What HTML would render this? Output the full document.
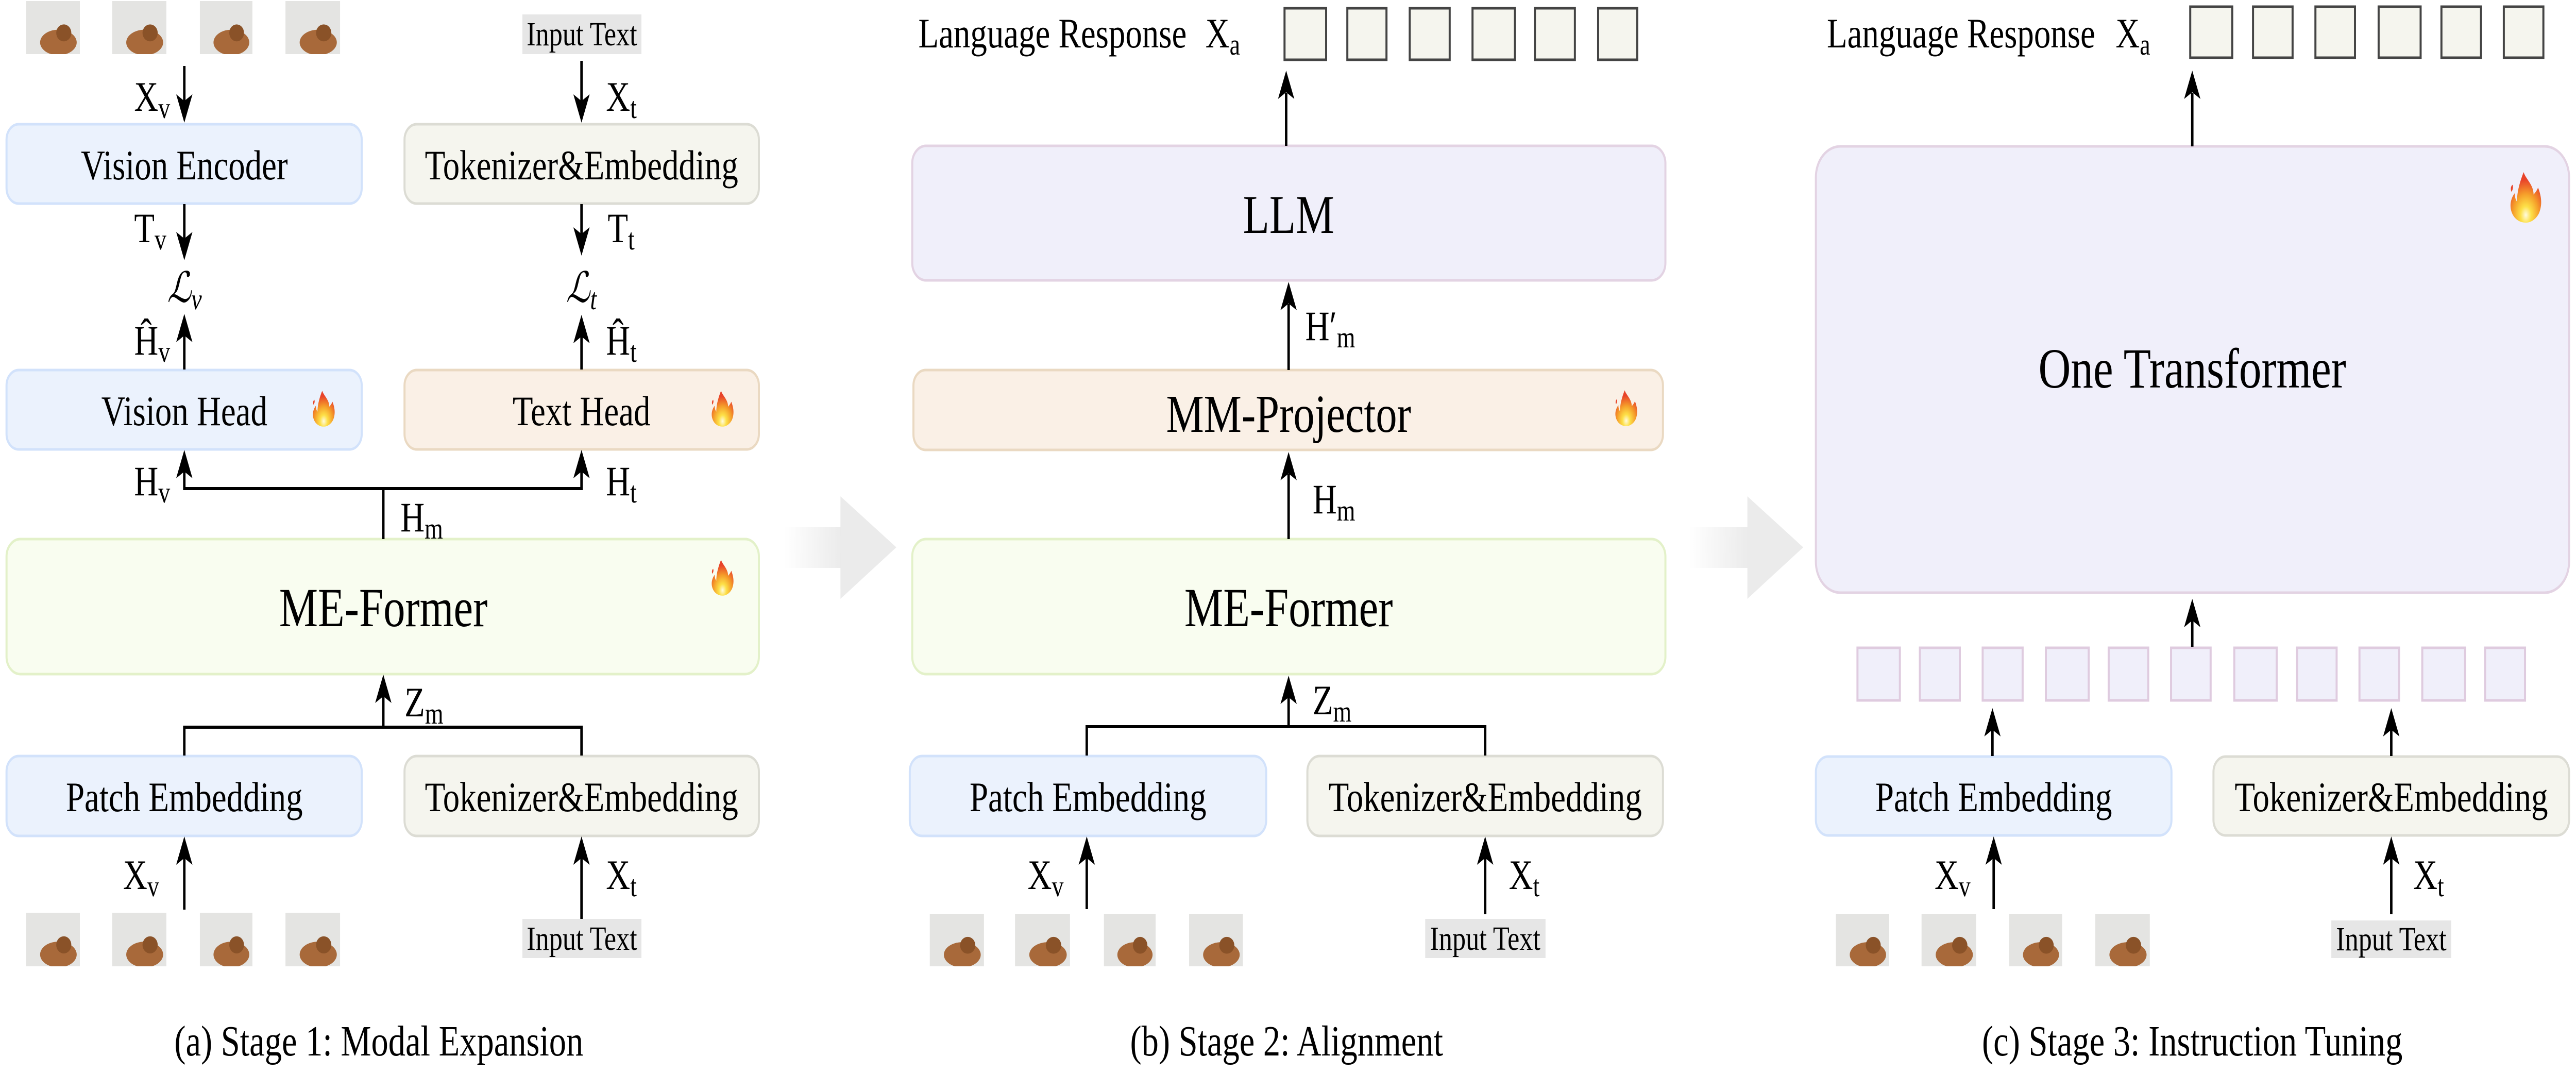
<!DOCTYPE html>
<html><head><meta charset="utf-8"><style>
html,body{margin:0;padding:0;background:#fff;overflow:hidden}
svg{display:block;width:100vw;height:100vh}
svg text{font-family:"Liberation Serif",serif;fill:#000}
</style></head><body>
<svg viewBox="0 0 6317 2082" preserveAspectRatio="none" xmlns="http://www.w3.org/2000/svg" font-family="Liberation Serif, serif">
<defs>
<radialGradient id="fg" cx="0.5" cy="0.85" r="0.7">
<stop offset="0" stop-color="#fffbe0"/><stop offset="0.25" stop-color="#fde047"/><stop offset="0.6" stop-color="#f59e2a"/><stop offset="1" stop-color="#e8432a"/>
</radialGradient>
<symbol id="fire" viewBox="0 0 60 72">
<path d="M26 0 C30 10 44 18 44 32 C48 28 50 26 52 22 C58 34 60 46 54 58 C48 68 38 72 30 72 C18 72 8 66 4 56 C0 46 4 36 10 30 C10 36 12 40 14 42 C14 30 18 16 26 0 Z M6 18 C8 22 6 26 4 28 C2 24 3 20 6 18 Z" fill="url(#fg)"/>
</symbol>
<linearGradient id="sh1" x1="0" x2="1"><stop offset="0" stop-color="#fff"/><stop offset="1" stop-color="#ebebeb"/></linearGradient>
<symbol id="dog" viewBox="0 0 100 100" preserveAspectRatio="none">
<rect width="100" height="100" fill="#e4e4e2"/>
<ellipse cx="60" cy="78" rx="34" ry="24" fill="#a8693a"/>
<ellipse cx="70" cy="60" rx="14" ry="16" fill="#8a5228"/>
</symbol>
</defs>

<rect x="1923" y="1023" width="140" height="79" fill="url(#sh1)"/>
<polygon points="2061,963 2198,1062 2061,1162" fill="#ebebeb"/>
<rect x="4142" y="1023" width="145" height="79" fill="url(#sh1)"/>
<polygon points="4285,963 4422,1062 4285,1162" fill="#ebebeb"/>

<!-- Panel (a) -->
<use href="#dog" x="64" y="2" width="132" height="103"/>
<use href="#dog" x="275" y="2" width="133" height="103"/>
<use href="#dog" x="490" y="2" width="129" height="103"/>
<use href="#dog" x="700" y="2" width="134" height="103"/>
<rect x="1281" y="28" width="292" height="77" fill="#e6e6e6"/>
<text x="1427" y="88" font-size="66" text-anchor="middle">Input Text</text>

<rect x="16" y="241" width="871" height="154" rx="30" fill="#ebf2fd" stroke="#d2e2fb" stroke-width="5"/>
<text x="452" y="348" font-size="82" text-anchor="middle">Vision Encoder</text>
<rect x="992" y="241" width="869" height="154" rx="30" fill="#f5f5ee" stroke="#dcdcd4" stroke-width="5"/>
<text x="1426" y="348" font-size="82" text-anchor="middle">Tokenizer&amp;Embedding</text>

<rect x="16" y="718" width="871" height="154" rx="30" fill="#ebf2fd" stroke="#d2e2fb" stroke-width="5"/>
<text x="452" y="825" font-size="82" text-anchor="middle">Vision Head</text>
<use href="#fire" x="765" y="758" width="58" height="70"/>
<rect x="992" y="718" width="869" height="154" rx="30" fill="#faf0e6" stroke="#ead9c2" stroke-width="5"/>
<text x="1426" y="825" font-size="82" text-anchor="middle">Text Head</text>
<use href="#fire" x="1743" y="758" width="58" height="70"/>

<rect x="16" y="1046" width="1845" height="262" rx="34" fill="#f9fdf0" stroke="#e3f1c9" stroke-width="5"/>
<text x="940" y="1215" font-size="107" text-anchor="middle">ME-Former</text>
<use href="#fire" x="1743" y="1086" width="58" height="70"/>

<rect x="16" y="1467" width="871" height="155" rx="30" fill="#ebf2fd" stroke="#d2e2fb" stroke-width="5"/>
<text x="452" y="1574" font-size="82" text-anchor="middle">Patch Embedding</text>
<rect x="992" y="1467" width="869" height="155" rx="30" fill="#f5f5ee" stroke="#dcdcd4" stroke-width="5"/>
<text x="1426" y="1574" font-size="82" text-anchor="middle">Tokenizer&amp;Embedding</text>

<use href="#dog" x="64" y="1771" width="132" height="104"/>
<use href="#dog" x="275" y="1771" width="133" height="104"/>
<use href="#dog" x="490" y="1771" width="129" height="104"/>
<use href="#dog" x="700" y="1771" width="134" height="104"/>
<rect x="1281" y="1783" width="292" height="76" fill="#e6e6e6"/>
<text x="1427" y="1843" font-size="66" text-anchor="middle">Input Text</text>

<g stroke="#000" stroke-width="6" fill="none">
<line x1="452" y1="128" x2="452" y2="200"/>
<line x1="1426" y1="118" x2="1426" y2="200"/>
<line x1="452" y1="396" x2="452" y2="465"/>
<line x1="1426" y1="396" x2="1426" y2="456"/>
<line x1="452" y1="717" x2="452" y2="650"/>
<line x1="1426" y1="717" x2="1426" y2="650"/>
<polyline points="452,912 452,948 1426,948 1426,912"/>
<line x1="940" y1="948" x2="940" y2="1046"/>
<polyline points="452,1466 452,1411 1426,1411 1426,1466"/>
<line x1="940" y1="1411" x2="940" y2="1350"/>
<line x1="452" y1="1765" x2="452" y2="1662"/>
<line x1="1426" y1="1783" x2="1426" y2="1662"/>
</g>
<g fill="#000">
<polygon points="452,238 432,183 452,196 472,183"/>
<polygon points="1426,238 1406,183 1426,196 1446,183"/>
<polygon points="452,505 432,450 452,463 472,450"/>
<polygon points="1426,496 1406,441 1426,454 1446,441"/>
<polygon points="452,609 432,664 452,651 472,664"/>
<polygon points="1426,611 1406,666 1426,653 1446,666"/>
<polygon points="452,873 432,928 452,915 472,928"/>
<polygon points="1426,873 1406,928 1426,915 1446,928"/>
<polygon points="940,1309 920,1364 940,1351 960,1364"/>
<polygon points="452,1623 432,1678 452,1665 472,1678"/>
<polygon points="1426,1623 1406,1678 1426,1665 1446,1678"/>
</g>
<g font-size="82">
<text x="329" y="215">X<tspan font-size="58" dy="14">v</tspan></text>
<text x="1486" y="215">X<tspan font-size="58" dy="14">t</tspan></text>
<text x="329" y="470">T<tspan font-size="58" dy="14">v</tspan></text>
<text x="1490" y="470">T<tspan font-size="58" dy="14">t</tspan></text>
<text x="410" y="586" font-style="italic">ℒ<tspan font-size="58" dy="14">v</tspan></text>
<text x="1388" y="586" font-style="italic">ℒ<tspan font-size="58" dy="14">t</tspan></text>
<text x="329" y="688">Ĥ<tspan font-size="58" dy="14">v</tspan></text>
<text x="1486" y="688">Ĥ<tspan font-size="58" dy="14">t</tspan></text>
<text x="329" y="961">H<tspan font-size="58" dy="14">v</tspan></text>
<text x="1486" y="961">H<tspan font-size="58" dy="14">t</tspan></text>
<text x="982" y="1031">H<tspan font-size="58" dy="14">m</tspan></text>
<text x="992" y="1390">Z<tspan font-size="58" dy="14">m</tspan></text>
<text x="302" y="1725">X<tspan font-size="58" dy="14">v</tspan></text>
<text x="1486" y="1725">X<tspan font-size="58" dy="14">t</tspan></text>
</g>
<text x="929" y="2048" font-size="84" text-anchor="middle">(a) Stage 1: Modal Expansion</text>

<!-- Panel (b) -->
<text x="2252" y="92" font-size="82">Language Response</text>
<text x="2956" y="92" font-size="82">X<tspan font-size="58" dy="14">a</tspan></text>
<g fill="#f5f5ee" stroke="#444" stroke-width="5">
<rect x="3150" y="16" width="102" height="100"/>
<rect x="3304" y="16" width="96" height="100"/>
<rect x="3457" y="16" width="98" height="100"/>
<rect x="3611" y="16" width="104" height="100"/>
<rect x="3764" y="16" width="98" height="100"/>
<rect x="3919" y="16" width="96" height="100"/>
</g>
<rect x="2237" y="283" width="1847" height="261" rx="34" fill="#f0effa" stroke="#e3d3e3" stroke-width="5"/>
<text x="3160" y="452" font-size="106" text-anchor="middle">LLM</text>
<rect x="2240" y="718" width="1838" height="155" rx="30" fill="#faf0e6" stroke="#ead9c2" stroke-width="5"/>
<text x="3160" y="838" font-size="104" text-anchor="middle">MM-Projector</text>
<use href="#fire" x="3959" y="757" width="58" height="70"/>
<rect x="2237" y="1046" width="1847" height="262" rx="34" fill="#f9fdf0" stroke="#e3f1c9" stroke-width="5"/>
<text x="3160" y="1215" font-size="107" text-anchor="middle">ME-Former</text>
<rect x="2231" y="1467" width="874" height="155" rx="30" fill="#ebf2fd" stroke="#d2e2fb" stroke-width="5"/>
<text x="2668" y="1574" font-size="82" text-anchor="middle">Patch Embedding</text>
<rect x="3206" y="1467" width="872" height="155" rx="30" fill="#f5f5ee" stroke="#dcdcd4" stroke-width="5"/>
<text x="3642" y="1574" font-size="82" text-anchor="middle">Tokenizer&amp;Embedding</text>
<use href="#dog" x="2280" y="1773" width="133" height="102"/>
<use href="#dog" x="2489" y="1773" width="135" height="102"/>
<use href="#dog" x="2707" y="1773" width="127" height="102"/>
<use href="#dog" x="2916" y="1773" width="132" height="102"/>
<rect x="3495" y="1783" width="295" height="76" fill="#e6e6e6"/>
<text x="3642" y="1843" font-size="66" text-anchor="middle">Input Text</text>
<g stroke="#000" stroke-width="6" fill="none">
<line x1="3154" y1="283" x2="3154" y2="180"/>
<line x1="3160" y1="718" x2="3160" y2="590"/>
<line x1="3160" y1="1046" x2="3160" y2="920"/>
<polyline points="2665,1466 2665,1410 3642,1410 3642,1466"/>
<line x1="3160" y1="1410" x2="3160" y2="1350"/>
<line x1="2665" y1="1764" x2="2665" y2="1662"/>
<line x1="3642" y1="1774" x2="3642" y2="1662"/>
</g>
<g fill="#000">
<polygon points="3154,137 3134,192 3154,179 3174,192"/>
<polygon points="3160,547 3140,602 3160,589 3180,602"/>
<polygon points="3160,877 3140,932 3160,919 3180,932"/>
<polygon points="3160,1311 3140,1366 3160,1353 3180,1366"/>
<polygon points="2665,1623 2645,1678 2665,1665 2685,1678"/>
<polygon points="3642,1623 3622,1678 3642,1665 3662,1678"/>
</g>
<g font-size="82">
<text x="3201" y="660">H′<tspan font-size="58" dy="14">m</tspan></text>
<text x="3219" y="996">H<tspan font-size="58" dy="14">m</tspan></text>
<text x="3219" y="1386">Z<tspan font-size="58" dy="14">m</tspan></text>
<text x="2520" y="1725">X<tspan font-size="58" dy="14">v</tspan></text>
<text x="3700" y="1725">X<tspan font-size="58" dy="14">t</tspan></text>
</g>
<text x="3155" y="2048" font-size="84" text-anchor="middle">(b) Stage 2: Alignment</text>

<!-- Panel (c) -->
<text x="4480" y="92" font-size="82">Language Response</text>
<text x="5188" y="92" font-size="82">X<tspan font-size="58" dy="14">a</tspan></text>
<g fill="#f5f5ee" stroke="#444" stroke-width="5">
<rect x="5371" y="13" width="103" height="99"/>
<rect x="5525" y="13" width="97" height="99"/>
<rect x="5678" y="13" width="97" height="99"/>
<rect x="5833" y="13" width="103" height="99"/>
<rect x="5987" y="13" width="97" height="99"/>
<rect x="6140" y="13" width="97" height="99"/>
</g>
<rect x="4453" y="284" width="1847" height="866" rx="60" fill="#f0effa" stroke="#e3d3e3" stroke-width="5"/>
<text x="5376" y="752" font-size="110" text-anchor="middle">One Transformer</text>
<use href="#fire" x="6153" y="334" width="82" height="98"/>
<g fill="#f0effa" stroke="#dfcbdf" stroke-width="5">
<rect x="4555" y="1257" width="104" height="102"/>
<rect x="4708" y="1257" width="98" height="102"/>
<rect x="4862" y="1257" width="98" height="102"/>
<rect x="5017" y="1257" width="105" height="102"/>
<rect x="5171" y="1257" width="97" height="102"/>
<rect x="5324" y="1257" width="97" height="102"/>
<rect x="5479" y="1257" width="104" height="102"/>
<rect x="5633" y="1257" width="97" height="102"/>
<rect x="5786" y="1257" width="97" height="102"/>
<rect x="5940" y="1257" width="105" height="102"/>
<rect x="6094" y="1257" width="98" height="102"/>
</g>
<rect x="4453" y="1468" width="872" height="153" rx="30" fill="#ebf2fd" stroke="#d2e2fb" stroke-width="5"/>
<text x="4889" y="1574" font-size="82" text-anchor="middle">Patch Embedding</text>
<rect x="5428" y="1468" width="872" height="153" rx="30" fill="#f5f5ee" stroke="#dcdcd4" stroke-width="5"/>
<text x="5864" y="1574" font-size="82" text-anchor="middle">Tokenizer&amp;Embedding</text>
<use href="#dog" x="4502" y="1773" width="131" height="102"/>
<use href="#dog" x="4712" y="1773" width="134" height="102"/>
<use href="#dog" x="4927" y="1773" width="130" height="102"/>
<use href="#dog" x="5138" y="1773" width="134" height="102"/>
<rect x="5717" y="1786" width="294" height="73" fill="#e6e6e6"/>
<text x="5864" y="1844" font-size="66" text-anchor="middle">Input Text</text>
<g stroke="#000" stroke-width="6" fill="none">
<line x1="5376" y1="284" x2="5376" y2="180"/>
<line x1="5376" y1="1255" x2="5376" y2="1200"/>
<line x1="4886" y1="1467" x2="4886" y2="1412"/>
<line x1="5864" y1="1467" x2="5864" y2="1412"/>
<line x1="4889" y1="1764" x2="4889" y2="1662"/>
<line x1="5864" y1="1774" x2="5864" y2="1662"/>
</g>
<g fill="#000">
<polygon points="5376,137 5356,192 5376,179 5396,192"/>
<polygon points="5376,1162 5356,1217 5376,1204 5396,1217"/>
<polygon points="4886,1374 4866,1429 4886,1416 4906,1429"/>
<polygon points="5864,1374 5844,1429 5864,1416 5884,1429"/>
<polygon points="4889,1623 4869,1678 4889,1665 4909,1678"/>
<polygon points="5864,1623 5844,1678 5864,1665 5884,1678"/>
</g>
<g font-size="82">
<text x="4744" y="1725">X<tspan font-size="58" dy="14">v</tspan></text>
<text x="5918" y="1725">X<tspan font-size="58" dy="14">t</tspan></text>
</g>
<text x="5376" y="2048" font-size="84" text-anchor="middle">(c) Stage 3: Instruction Tuning</text>
</svg>
</body></html>
